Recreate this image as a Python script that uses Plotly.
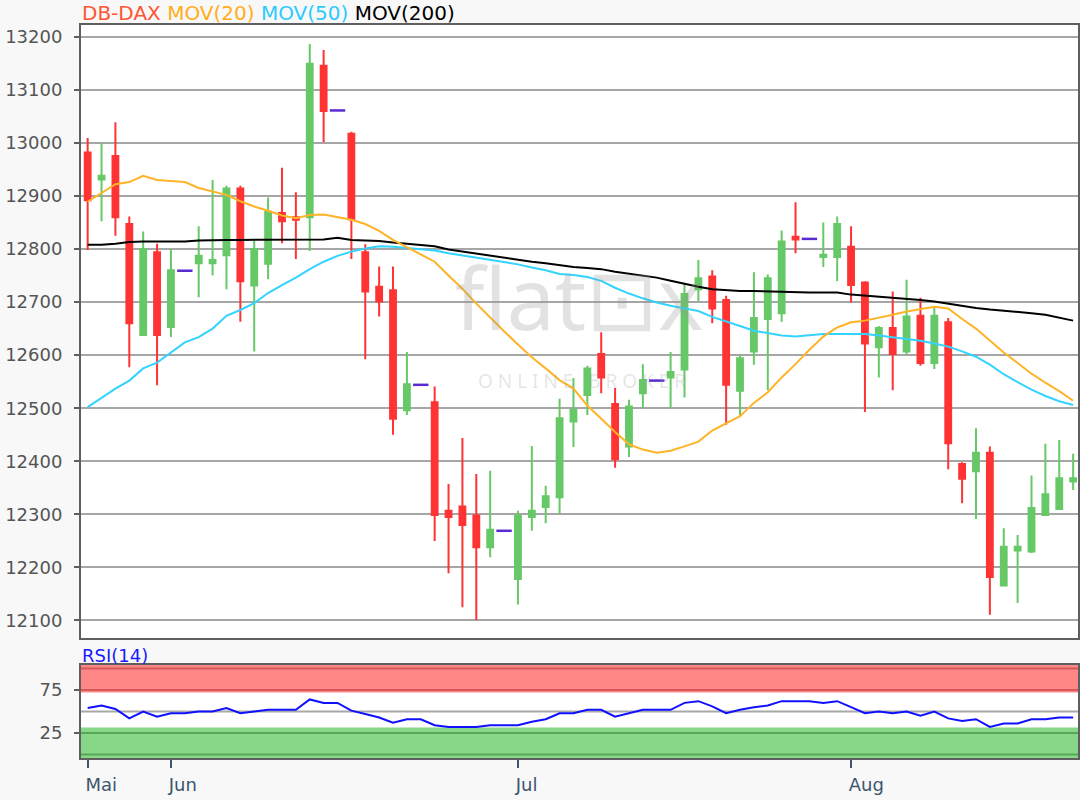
import plotly.graph_objects as go

# ---------------- data ----------------
month_ticks = [0, 6, 31, 55]
month_labels = ["Mai", "Jun", "Jul", "Aug"]
price_ticks = [12100, 12200, 12300, 12400, 12500, 12600, 12700, 12800, 12900, 13000, 13100, 13200]
rsi_ticks = [25, 75]

N = None
open_ = [12982, 12931, 12975, 12847, 12638, 12794, 12653, N, 12773, 12773,
         12788, 12914, 12731, 12772, 12868, 12860, 12860, 13145, N, 13017,
         12794, 12729, 12722, 12496, N, 12511, 12307, 12315, 12298, 12238,
         N, 12178, 12295, 12314, 12332, 12475, 12525, 12602, 12508, 12428,
         12528, N, 12558, 12573, 12724, 12748, 12704, 12533, 12607, 12668,
         12679, 12823, N, 12785, 12785, 12804, 12737, 12615, 12651, 12607,
         12674, 12585, 12662, 12395, 12381, 12416, 12166, 12232, 12230, 12299,
         12310, 12362]
high = [13009, 13000, 13039, 12861, 12833, 12810, 12800, N, 12843, 12930,
        12919, 12919, 12815, 12897, 12953, 12907, 13186, 13175, N, 13021,
        12809, 12767, 12767, 12606, N, 12541, 12357, 12444, 12376, 12382,
        N, 12307, 12429, 12354, 12518, 12557, 12580, 12643, 12538, 12516,
        12583, N, 12606, 12735, 12779, 12760, 12712, 12599, 12756, 12752,
        12835, 12888, N, 12850, 12861, 12843, 12739, 12655, 12720, 12742,
        12708, 12691, 12670, 12398, 12462, 12428, 12274, 12261, 12373, 12433,
        12440, 12414]
low = [12798, 12852, 12825, 12577, 12636, 12543, 12634, N, 12709, 12750,
       12724, 12663, 12607, 12743, 12811, 12781, 12796, 13001, N, 12781,
       12592, 12673, 12450, 12487, N, 12250, 12189, 12125, 12101, 12219,
       N, 12130, 12269, 12283, 12300, 12427, 12487, 12528, 12388, 12408,
       12500, N, 12500, 12520, 12702, 12660, 12469, 12486, 12582, 12534,
       12663, 12792, N, 12766, 12739, 12699, 12493, 12558, 12534, 12602,
       12580, 12574, 12385, 12321, 12291, 12111, 12164, 12133, 12227, 12298,
       12309, 12346]
close = [12892, 12938, 12860, 12660, 12800, 12638, 12760, N, 12787, 12779,
         12914, 12739, 12800, 12870, 12852, 12855, 13149, 13060, N, 12856,
         12720, 12701, 12480, 12545, N, 12299, 12295, 12280, 12238, 12271,
         N, 12298, 12307, 12334, 12481, 12497, 12575, 12558, 12404, 12503,
         12553, N, 12568, 12715, 12745, 12688, 12544, 12594, 12670, 12745,
         12814, 12818, N, 12789, 12847, 12732, 12622, 12651, 12602, 12673,
         12585, 12674, 12434, 12367, 12416, 12182, 12239, 12239, 12312, 12338,
         12368, 12368]
# unchanged sessions (drawn as a purple dash)
flat = [N, N, N, N, N, N, N, 12759, N, N,
        N, N, N, N, N, N, N, N, 13061, N,
        N, N, N, N, 12544, N, N, N, N, N,
        12269, N, N, N, N, N, N, N, N, N,
        N, 12552, N, N, N, N, N, N, N, N,
        N, N, 12819, N, N, N, N, N, N, N,
        N, N, N, N, N, N, N, N, N, N,
        N, N]

ma20 = [12889, 12905, 12922, 12926, 12938, 12930, 12928, 12926, 12915, 12908,
        12902, 12890, 12880, 12872, 12863, 12858, 12864, 12865, 12860, 12855,
        12847, 12834, 12817, 12803, 12790, 12776, 12750, 12725, 12697, 12670,
        12645, 12620, 12596, 12575, 12553, 12537, 12505, 12480, 12455, 12432,
        12422, 12416, 12420, 12428, 12437, 12458, 12472, 12485, 12510, 12530,
        12558, 12583, 12610, 12635, 12652, 12662, 12665, 12670, 12676, 12682,
        12687, 12691, 12688, 12668, 12650, 12627, 12605, 12585, 12565, 12548,
        12532, 12514]
ma50 = [12502, 12520, 12537, 12552, 12575, 12586, 12605, 12624, 12634, 12650,
        12674, 12685, 12698, 12717, 12732, 12746, 12762, 12776, 12787, 12795,
        12801, 12805, 12804, 12802, 12800, 12797, 12792, 12788, 12784, 12780,
        12776, 12771, 12765, 12760, 12753, 12751, 12747, 12740, 12727, 12716,
        12707, 12699, 12693, 12688, 12683, 12672, 12664, 12655, 12646, 12641,
        12637, 12635, 12637, 12640, 12640, 12640, 12640, 12637, 12634, 12630,
        12627, 12622, 12616, 12607, 12597, 12582, 12564, 12549, 12535, 12523,
        12513, 12506]
ma200 = [12808, 12808, 12810, 12813, 12814, 12814, 12814, 12814, 12816, 12817,
         12817, 12817, 12817, 12817, 12817, 12817, 12817, 12818, 12821, 12817,
         12816, 12815, 12812, 12810, 12808, 12805, 12799, 12795, 12791, 12787,
         12783, 12779, 12776, 12773, 12769, 12766, 12764, 12762, 12757, 12753,
         12750, 12746, 12740, 12734, 12729, 12724, 12722, 12721, 12721, 12720,
         12719, 12718, 12718, 12718, 12718, 12714, 12712, 12711, 12709, 12707,
         12704, 12701, 12697, 12692, 12689, 12686, 12684, 12681, 12679, 12676,
         12671, 12665]
rsi = [54, 57, 53, 42, 50, 44, 48, 48, 50, 50,
       54, 48, 50, 52, 52, 52, 64, 60, 60, 51,
       47, 43, 37, 41, 41, 34, 32, 32, 32, 34,
       34, 34, 38, 41, 48, 48, 52, 52, 44, 48,
       52, 52, 52, 60, 62, 56, 48, 52, 55, 57,
       62, 62, 62, 60, 62, 55, 48, 50, 48, 50,
       45, 50, 42, 39, 41, 32, 36, 36, 41, 41,
       43, 43]

# ---------------- styling ----------------
FONT = "DejaVu Sans, Liberation Sans, Arial, sans-serif"
GREEN = "#66c866"
RED = "#ff3333"
FRAME = "#5f5f5f"
GRID = "#a6a6a6"

slots = list(range(len(close)))
cx = [i for i in slots if close[i] is not None]
fx = [i for i in slots if flat[i] is not None]

fig = go.Figure()

fig.add_trace(go.Candlestick(
    x=cx,
    open=[open_[i] for i in cx], high=[high[i] for i in cx],
    low=[low[i] for i in cx], close=[close[i] for i in cx],
    increasing=dict(line=dict(color=GREEN, width=2), fillcolor=GREEN),
    decreasing=dict(line=dict(color=RED, width=2), fillcolor=RED),
    whiskerwidth=0, xaxis="x", yaxis="y", hoverinfo="skip"))

fig.add_trace(go.Scatter(
    x=fx, y=[flat[i] for i in fx], mode="markers",
    marker=dict(symbol="line-ew", size=11, line=dict(width=2.5, color="#5a2ad0")),
    xaxis="x", yaxis="y", hoverinfo="skip"))

for vals, col in [(ma200, "#000000"), (ma50, "#33d3ff"), (ma20, "#ffb326")]:
    fig.add_trace(go.Scatter(x=slots, y=vals, mode="lines",
                             line=dict(color=col, width=2),
                             xaxis="x", yaxis="y", hoverinfo="skip"))

fig.add_trace(go.Scatter(x=slots, y=rsi, mode="lines",
                         line=dict(color="#1010ff", width=2),
                         xaxis="x2", yaxis="y2", hoverinfo="skip"))

xr = [-0.48, 71.35]
main_dom = [0.1637, 1.0]
rsi_dom = [0.0, 0.1269]

shapes = [
    dict(type="rect", xref="x2 domain", yref="y2", x0=0, x1=1, y0=72, y1=104,
         fillcolor="#ff8787", line=dict(width=0), layer="below"),
    dict(type="rect", xref="x2 domain", yref="y2", x0=0, x1=1, y0=-4, y1=31.5,
         fillcolor="#88d688", line=dict(width=0), layer="below"),
]
for yv, col in [(100, "#d45a5a"), (75, "#d45a5a"), (25, "#55a855"), (0, "#55a855"), (50, "#a8a8a8")]:
    shapes.append(dict(type="line", xref="x2 domain", yref="y2", x0=0, x1=1, y0=yv, y1=yv,
                       line=dict(color=col, width=2), layer="below"))

title_html = ('<span style="color:#ff5533">DB-DAX</span> '
              '<span style="color:#ffae1a">MOV(20)</span> '
              '<span style="color:#2ccaff">MOV(50)</span> '
              '<span style="color:#000000">MOV(200)</span>')

annotations = [
    dict(text=title_html, xref="paper", yref="paper", x=0.0, y=1.0, xanchor="left",
         yanchor="bottom", showarrow=False, xshift=-1, yshift=-2,
         font=dict(family=FONT, size=20)),
    dict(text="RSI(14)", xref="paper", yref="paper", x=0.0, y=0.1269, xanchor="left",
         yanchor="bottom", showarrow=False, xshift=-1, yshift=-3,
         font=dict(family=FONT, size=18, color="#1a1aff")),
    dict(text="flat\u22a1x", xref="paper", yref="paper", x=0.50, y=0.63, xanchor="center",
         yanchor="middle", showarrow=False,
         font=dict(family="Noto Sans, sans-serif", size=86, color="rgba(150,150,150,0.28)")),
    dict(text="O N L I N E   B R O K E R", xref="paper", yref="paper", x=0.503, y=0.515,
         xanchor="center", yanchor="middle", showarrow=False,
         font=dict(family="Noto Sans, sans-serif", size=19, color="rgba(150,150,150,0.25)")),
]

axis_common = dict(showline=True, mirror=True, linecolor=FRAME, linewidth=2, zeroline=False,
                   automargin=False)

fig.update_layout(
    width=1080, height=800,
    margin=dict(l=81, r=2, t=25, b=42),
    paper_bgcolor="#f8f8f8", plot_bgcolor="#ffffff",
    showlegend=False, boxgap=0.4,
    font=dict(family=FONT, size=18, color="#555555"),
    xaxis=dict(domain=[0, 1], anchor="y", range=xr, showticklabels=False, ticks="",
               showgrid=False, rangeslider=dict(visible=False), **axis_common),
    yaxis=dict(domain=main_dom, anchor="x", range=[12067, 13222], tickvals=price_ticks,
               tickformat="d", ticks="outside", ticklen=5, tickcolor=FRAME, tickwidth=1.5,
               ticklabelstandoff=8,
               showgrid=True, gridcolor=GRID, gridwidth=2,
               tickfont=dict(family=FONT, size=18, color="#555555"), **axis_common),
    xaxis2=dict(domain=[0, 1], anchor="y2", matches="x", range=xr,
                tickvals=month_ticks, ticktext=month_labels, ticks="outside", ticklen=8,
                tickcolor="#3d566e", tickwidth=1.5, ticklabelposition="outside right",
                ticklabelshift=-4, ticklabelstandoff=9,
                tickfont=dict(family=FONT, size=18, color="#3d566e"),
                showgrid=False, **axis_common),
    yaxis2=dict(domain=rsi_dom, anchor="x2", range=[-4, 104], tickvals=rsi_ticks,
                ticks="outside", ticklen=5, tickcolor=FRAME, tickwidth=1.5, showgrid=False,
                ticklabelstandoff=8,
                tickfont=dict(family=FONT, size=18, color="#555555"), **axis_common),
    shapes=shapes,
    annotations=annotations,
)

# remove the browser's default 8px body margin so the figure fills the window exactly
fig.write_html("out.html",
               config={"displayModeBar": False},
               post_script="document.body.style.margin='0px';"
                           "document.body.style.background='#f8f8f8';")
